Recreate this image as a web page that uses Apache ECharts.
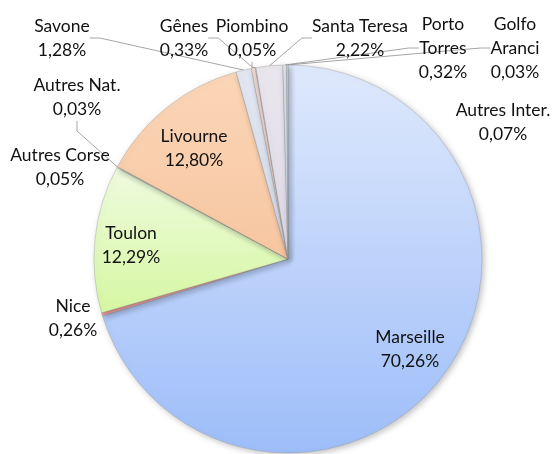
<!DOCTYPE html>
<html>
<head>
<meta charset="utf-8">
<script src="https://cdn.jsdelivr.net/npm/echarts@6/dist/echarts.min.js"></script>
<style>html,body{margin:0;padding:0;background:#fff}#c{width:557px;height:454px}</style>
</head>
<body>
<div id="c"></div>
<script>
var categories = ['Marseille','Nice','Toulon','Autres Corse','Autres Nat.','Livourne','Savone','Gênes','Piombino','Santa Teresa','Porto\nTorres','Golfo\nAranci','Autres Inter.'];
var values = [70.26,0.26,12.29,0.05,0.03,12.80,1.28,0.33,0.05,2.22,0.32,0.03,0.07];

var colorsTop = ['#dfe9fc','#f8b0b0','#eefbdf','#f4f8ea','#eef0f6','#fbd6b8','#e2e7f2','#f3dcd6','#ece6e4','#e9e6ee','#dde4f0','#e6e6e6','#e3e8f1'];
var colorsBot = ['#9dbdf9','#f29c9c','#d6f7a2','#e6f1c8','#d8dce8','#f7c6a0','#d3dbea','#ecccc2','#ddd6d2','#dedae6','#cfd8e8','#d6d6d6','#d3dbe8'];
var labelPos = [[410,349],[73,318],[131,245],[60,167],[77,97],[194,148],[62,38],[184,38],[252,38],[360,38],[443,48],[515,48],[503,122]];
var showLine = [false,false,false,false,true,false,true,true,true,true,true,true,false];

function fmt(v){ return v.toFixed(2).replace('.', ',') + '%'; }

var data = categories.map(function(n,i){
  return {
    name: n, value: values[i],
    itemStyle: { color: new echarts.graphic.LinearGradient(0,0,0,1,[{offset:0,color:colorsTop[i]},{offset:1,color:colorsBot[i]}]) },
    labelLine: { show: showLine[i] }
  };
});

var chart = echarts.init(document.getElementById('c'), null, {renderer:'canvas'});
chart.setOption({
  animation: false,
  series: [{
    type: 'pie',
    center: [288, 259],
    radius: 194,
    startAngle: 90,
    clockwise: true,
    avoidLabelOverlap: false,
    itemStyle: { borderColor: 'rgba(140,140,140,0.55)', borderWidth: 0.6, shadowBlur: 6, shadowColor: 'rgba(0,0,0,0.25)', shadowOffsetX: 2, shadowOffsetY: 2 },
    label: {
      show: true,
      position: 'outside',
      fontFamily: 'Lato, "Open Sans", sans-serif',
      fontSize: 17.5,
      lineHeight: 24,
      color: '#111',
      align: 'center',
      formatter: function(p){ return p.name + '\n' + fmt(p.value); }
    },
    labelLine: { show: true, lineStyle: { color: '#a6a6a6', width: 1 }, length: 10, length2: 10 },
    labelLayout: function(p){
      var pos = labelPos[p.dataIndex];
      return { x: pos[0], y: pos[1], align: 'center', verticalAlign: 'middle', hideOverlap: false };
    },
    data: data
  }]
});
</script>
</body>
</html>
